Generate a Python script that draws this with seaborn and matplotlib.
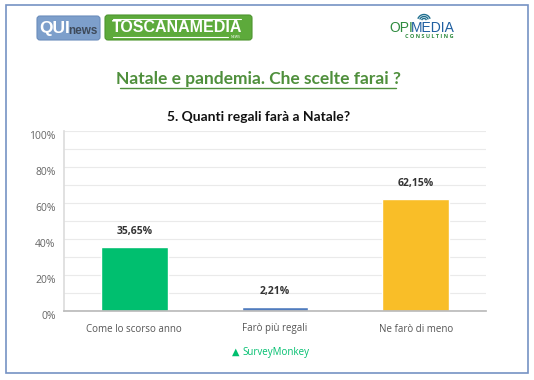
import matplotlib
matplotlib.use("Agg")
import matplotlib.pyplot as plt
import seaborn as sns
import pandas as pd
from matplotlib.patches import Rectangle, FancyBboxPatch, Arc

categories = ["Come lo scorso anno", "Farò più regali", "Ne farò di meno"]
values = [35.65, 2.21, 62.15]
value_labels = ["35,65%", "2,21%", "62,15%"]
colors = ["#00BF6F", "#507CBE", "#F9BE28"]
yticks = [0, 20, 40, 60, 80, 100]
ytick_labels = ["0%", "20%", "40%", "60%", "80%", "100%"]
main_title = "Natale e pandemia. Che scelte farai ?"
question = "5. Quanti regali farà a Natale?"

sns.set_theme(style="white")
plt.rcParams["font.family"] = ["Open Sans", "DejaVu Sans"]

W, H = 534, 380
fig = plt.figure(figsize=(W / 100, H / 100), dpi=100)
fig.patch.set_facecolor("white")

# overlay in pixel coordinates for decorations
ov = fig.add_axes([0, 0, 1, 1])
ov.set_xlim(0, W)
ov.set_ylim(H, 0)
ov.axis("off")
ov.add_patch(Rectangle((6, 5), 522, 368, fill=False, edgecolor="#7692C4", lw=1.2))

# logos
ov.add_patch(FancyBboxPatch((37, 16), 63, 24, boxstyle="round,pad=0,rounding_size=3",
                            facecolor="#7D9FCB", edgecolor="#6A8CBB", lw=0.8))
ov.text(39, 28.5, "QUI", color="white", fontsize=12.5, fontweight="bold", va="center",
        family="Liberation Sans")
ov.text(68.5, 30.5, "news", color="#3E4A5A", fontsize=8.5, fontweight="bold", va="center",
        family="Liberation Sans")
ov.add_patch(FancyBboxPatch((105, 15), 147, 25, boxstyle="round,pad=0,rounding_size=3",
                            facecolor="#5DAA3B", edgecolor="#4E9530", lw=0.8))
ov.plot([113, 241], [18.5, 18.5], color="white", lw=0.8)
ov.plot([113, 228], [36.5, 36.5], color="white", lw=0.8)
ov.text(177, 27.5, "TOSCANAMEDIA", color="white", fontsize=11.5, fontweight="bold",
        va="center", ha="center", family="Liberation Sans")
ov.text(236, 37.5, "NEWS", color="white", fontsize=2.5, va="center", ha="center")

ov.text(389, 28, "OPI", color="#2E8B3E", fontsize=10, va="center", ha="left",
        family="Liberation Sans")
ov.text(411, 28, "MEDIA", color="#1F5FA0", fontsize=10, va="center", ha="left",
        family="Liberation Sans")
for r in (2.5, 4.5, 6.5):
    ov.add_patch(Arc((424, 21), 2 * r, 2 * r, theta1=200, theta2=340, color="#1F6F8F", lw=1))
ov.text(429, 36.5, "C O N S U L T I N G", color="#2E8B3E", fontsize=4, va="center",
        ha="center", fontweight="bold")

# titles
ov.text(258, 79, main_title, color="#4F8F3C", fontsize=12.5, fontweight="bold",
        ha="center", va="center", family=["Lato", "DejaVu Sans"])
ov.plot([120, 396], [88, 88], color="#4F8F3C", lw=1)
ov.text(259, 117, question, color="#111111", fontsize=10, fontweight="bold",
        ha="center", va="center", family=["Lato", "DejaVu Sans"])

# SurveyMonkey footer
ov.text(236, 352, "\u25B2", color="#00BF6F", fontsize=7, ha="center", va="center")
ov.text(242, 352, "SurveyMonkey", color="#00BF6F", fontsize=7, ha="left", va="center")

# main chart
ax = fig.add_axes([64 / W, (H - 311) / H, 422 / W, 180 / H])
df = pd.DataFrame({"cat": categories, "val": values})
sns.barplot(data=df, x="cat", y="val", hue="cat", palette=colors, width=0.476,
            legend=False, ax=ax, saturation=1)
ax.set_ylim(0, 100)
ax.set_xlim(-0.5, 2.5)
ax.set_yticks(yticks)
ax.set_yticks(range(10, 100, 20), minor=True)
ax.yaxis.grid(True, which="both", color="#EAEAEA", lw=0.8)
ax.set_axisbelow(True)
ax.set_yticklabels(ytick_labels)
ax.tick_params(axis="y", which="both", length=0, pad=6, labelsize=7.5, labelcolor="#666666")
ax.tick_params(axis="x", length=0, pad=9, labelsize=7, labelcolor="#555555")
for lab in ax.get_yticklabels():
    lab.set_verticalalignment("top")
ax.set_xlabel("")
ax.set_ylabel("")
for s in ["top", "right"]:
    ax.spines[s].set_visible(False)
ax.spines["left"].set_color("#DDDDDD")
ax.spines["bottom"].set_color("#BBBBBB")
ax.set_facecolor("white")

for cont, lab in zip(ax.containers, value_labels):
    ax.bar_label(cont, labels=[lab], padding=7, fontsize=7.5, fontweight="bold",
                 color="#333333")

fig.savefig("out.png", dpi=100)
